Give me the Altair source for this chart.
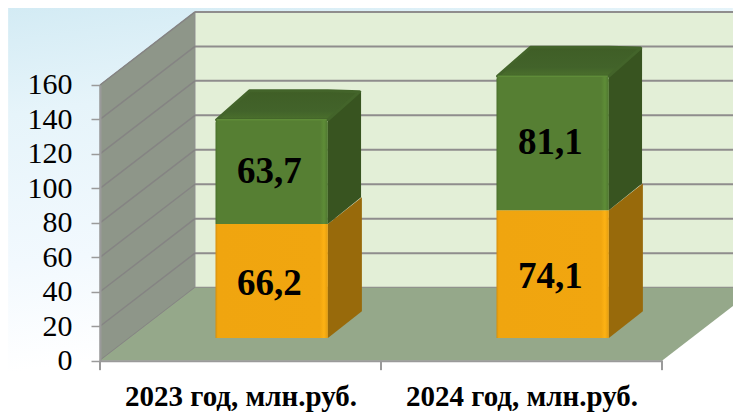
import altair as alt
import pandas as pd

categories = ["2023 год, млн.руб.", "2024 год, млн.руб."]
orange_values = [66.2, 74.1]
green_values = [63.7, 81.1]
orange_labels = ["66,2", "74,1"]
green_labels = ["63,7", "81,1"]
y_ticks = [0, 20, 40, 60, 80, 100, 120, 140, 160]

FONT = "Liberation Serif"
# projection constants (category units / value units)
WALL_DX, WALL_DY = 0.338, 42.4
BAR_SHIFT, BAR_W = 0.111, 0.4
BAR_BASE = 13.2
BAR_DX, BAR_DY = 0.121, 15.5
BEVEL = 3.3

xs = alt.Scale(domain=[0, 2], nice=False, zero=False)
ys = alt.Scale(domain=[0, 160], nice=False, zero=False)
x_axis = alt.Axis(
    values=[0.5, 1.5], title=None, grid=False, ticks=False, domainColor="#9a9a9a", domainWidth=2,
    labelFont=FONT, labelFontWeight="bold", labelFontSize=29, labelColor="#000000", labelPadding=22,
    labelLimit=400, labelOverlap=False, labelFlush=False,
    labelExpr=f"datum.value < 1 ? '{categories[0]}' : '{categories[1]}'", zindex=1)
y_axis = alt.Axis(
    values=y_ticks, title=None, grid=False, tickColor="#9a9a9a", tickWidth=1.5, tickSize=9,
    domainColor="#9a9a9a", domainWidth=2, labelFont=FONT, labelFontSize=30, labelColor="#000000",
    labelPadding=19, zindex=1)
X = alt.X("x:Q", scale=xs, axis=x_axis)
Y = alt.Y("y:Q", scale=ys, axis=y_axis)
X2 = alt.X2("x2:Q")
Y2 = alt.Y2("y2:Q")


def hgrad(stops):
    return alt.Gradient(gradient="linear", x1=0, y1=0, x2=1, y2=0,
                        stops=[alt.GradientStop(offset=o, color=c) for o, c in stops])


def vgrad(stops):
    return alt.Gradient(gradient="linear", x1=0, y1=0, x2=0, y2=1,
                        stops=[alt.GradientStop(offset=o, color=c) for o, c in stops])


bg = alt.Chart(pd.DataFrame({"x": [-0.327], "x2": [2.252], "y": [-30], "y2": [205.1]})).mark_rect(
    fill=alt.Gradient(gradient="linear", x1=0, y1=0, x2=0.25, y2=1, stops=[
        alt.GradientStop(offset=0, color="#d3ebf4"),
        alt.GradientStop(offset=0.25, color="#e6f4fa"),
        alt.GradientStop(offset=0.6, color="#f2f9fe"),
        alt.GradientStop(offset=0.85, color="#ffffff"),
        alt.GradientStop(offset=1, color="#ffffff"),
    ])
).encode(x=X, x2=X2, y=Y, y2=Y2)

side = alt.Chart(pd.DataFrame({"x": [0, WALL_DX], "y": [0, WALL_DY], "y2": [160, 160 + WALL_DY]})).mark_area(
    fill="#8e9689", stroke="#8f8f8f", strokeWidth=1).encode(x=X, y=Y, y2=Y2)
back = alt.Chart(pd.DataFrame({"x": [WALL_DX], "x2": [2 + WALL_DX], "y": [WALL_DY], "y2": [160 + WALL_DY]})).mark_rect(
    fill="#e3efd7").encode(x=X, x2=X2, y=Y, y2=Y2)
floor = alt.Chart(pd.DataFrame({"x": [0, WALL_DX, 2, 2 + WALL_DX],
                                "y": [0, 0, 0, WALL_DY],
                                "y2": [0, WALL_DY, WALL_DY, WALL_DY]})).mark_area(
    fill="#95a88a").encode(x=X, y=Y, y2=Y2)

back_grid = alt.Chart(pd.DataFrame({"x": [WALL_DX] * len(y_ticks), "x2": [2 + WALL_DX] * len(y_ticks),
                                    "y": [v + WALL_DY for v in y_ticks]})).mark_rule(
    color="#8f8d8d", strokeWidth=2).encode(x=X, x2=X2, y=Y)
side_rows = []
for v in y_ticks:
    side_rows += [{"x": 0, "y": v, "t": v}, {"x": WALL_DX, "y": v + WALL_DY, "t": v}]
side_grid = alt.Chart(pd.DataFrame(side_rows)).mark_line(color="#858483", strokeWidth=1.5).encode(
    x=X, y=Y, detail="t:N")

x_ticks = alt.Chart(pd.DataFrame({"x": [0, 1, 2], "y": [0, 0, 0], "y2": [-5.5, -5.5, -5.5]})).mark_rule(
    color="#9a9a9a", strokeWidth=2).encode(x=X, y=Y, y2=Y2)

# bars
centers = [0.5 + BAR_SHIFT, 1.5 + BAR_SHIFT]
face_o, face_g, side_o, side_g, cap, top_rows = [], [], [], [], [], []
for i, c in enumerate(centers):
    lo, hi = c - BAR_W / 2, c + BAR_W / 2
    b = BAR_BASE
    m = b + orange_values[i]
    t = m + green_values[i]
    face_o.append({"x": lo, "x2": hi, "y": b, "y2": m})
    face_g.append({"x": lo, "x2": hi, "y": m, "y2": t - BEVEL})
    side_o += [{"x": hi, "y": b, "y2": m, "k": i}, {"x": hi + BAR_DX, "y": b + BAR_DY, "y2": m + BAR_DY, "k": i}]
    side_g += [{"x": hi, "y": m, "y2": t - BEVEL, "k": i},
               {"x": hi + BAR_DX - 0.003, "y": m + BAR_DY, "y2": t + BAR_DY - 2, "k": i}]
    cap += [{"x": lo + 0.004, "y": t - BEVEL, "y2": t - BEVEL, "k": i},
            {"x": lo + BAR_DX, "y": t - BEVEL, "y2": t + BAR_DY - 2, "k": i},
            {"x": hi, "y": t - BEVEL, "y2": t + BAR_DY - 2, "k": i},
            {"x": hi + BAR_DX - 0.008, "y": t + BAR_DY - 2.5, "y2": t + BAR_DY - 2.5, "k": i}]
    top_rows.append({"x": lo + 0.004, "x2": hi - 0.004, "y": t - BEVEL})

orange_grad = hgrad([(0, "#d48f0e"), (0.02, "#f0a50f"), (0.93, "#f1a60f"), (0.965, "#fdb214"), (1, "#e39c10")])
green_grad = hgrad([(0, "#496f2a"), (0.02, "#567f33"), (0.93, "#567f33"), (0.965, "#5e8d37"), (1, "#4f7630")])

bar_layers = [
    alt.Chart(pd.DataFrame(side_o)).mark_area(fill="#986a0b").encode(x=X, y=Y, y2=Y2, detail="k:N"),
    alt.Chart(pd.DataFrame(side_g)).mark_area(fill="#385420").encode(x=X, y=Y, y2=Y2, detail="k:N"),
    alt.Chart(pd.DataFrame(cap)).mark_area(
        fill=vgrad([(0, "#3f5e26"), (0.7, "#42632a"), (1, "#4b702c")]),
        stroke="#43642a", strokeWidth=3, strokeJoin="round").encode(x=X, y=Y, y2=Y2, detail="k:N"),
    alt.Chart(pd.DataFrame(face_o)).mark_rect(fill=orange_grad).encode(x=X, x2=X2, y=Y, y2=Y2),
    alt.Chart(pd.DataFrame(face_g)).mark_rect(fill=green_grad, cornerRadiusTopLeft=3, cornerRadiusTopRight=3).encode(
        x=X, x2=X2, y=Y, y2=Y2),
    alt.Chart(pd.DataFrame(top_rows)).mark_rule(color="#5f8c38", strokeWidth=1.5).encode(x=X, x2=X2, y=Y),
]

label_rows = []
for i, c in enumerate(centers):
    m = BAR_BASE + orange_values[i]
    t = m + green_values[i]
    label_rows.append({"x": c - 0.008, "y": (BAR_BASE + m) / 2 - 1.6, "s": orange_labels[i]})
    label_rows.append({"x": c - 0.008, "y": (m + t - BEVEL) / 2, "s": green_labels[i]})
labels = alt.Chart(pd.DataFrame(label_rows)).mark_text(
    font=FONT, fontWeight="bold", fontSize=37, color="#000000", baseline="middle", align="center"
).encode(x=X, y=Y, text="s:N")

chart = alt.layer(
    bg, back, back_grid, side, side_grid, floor, x_ticks, *bar_layers, labels
).properties(
    width=562, height=275.7,
    padding={"left": 92, "top": 77, "right": 71, "bottom": 51},
    autosize=alt.AutoSizeParams(type="none"),
).configure_view(strokeWidth=0)

chart.save("out.html", embed_options={"renderer": "svg", "actions": False})
